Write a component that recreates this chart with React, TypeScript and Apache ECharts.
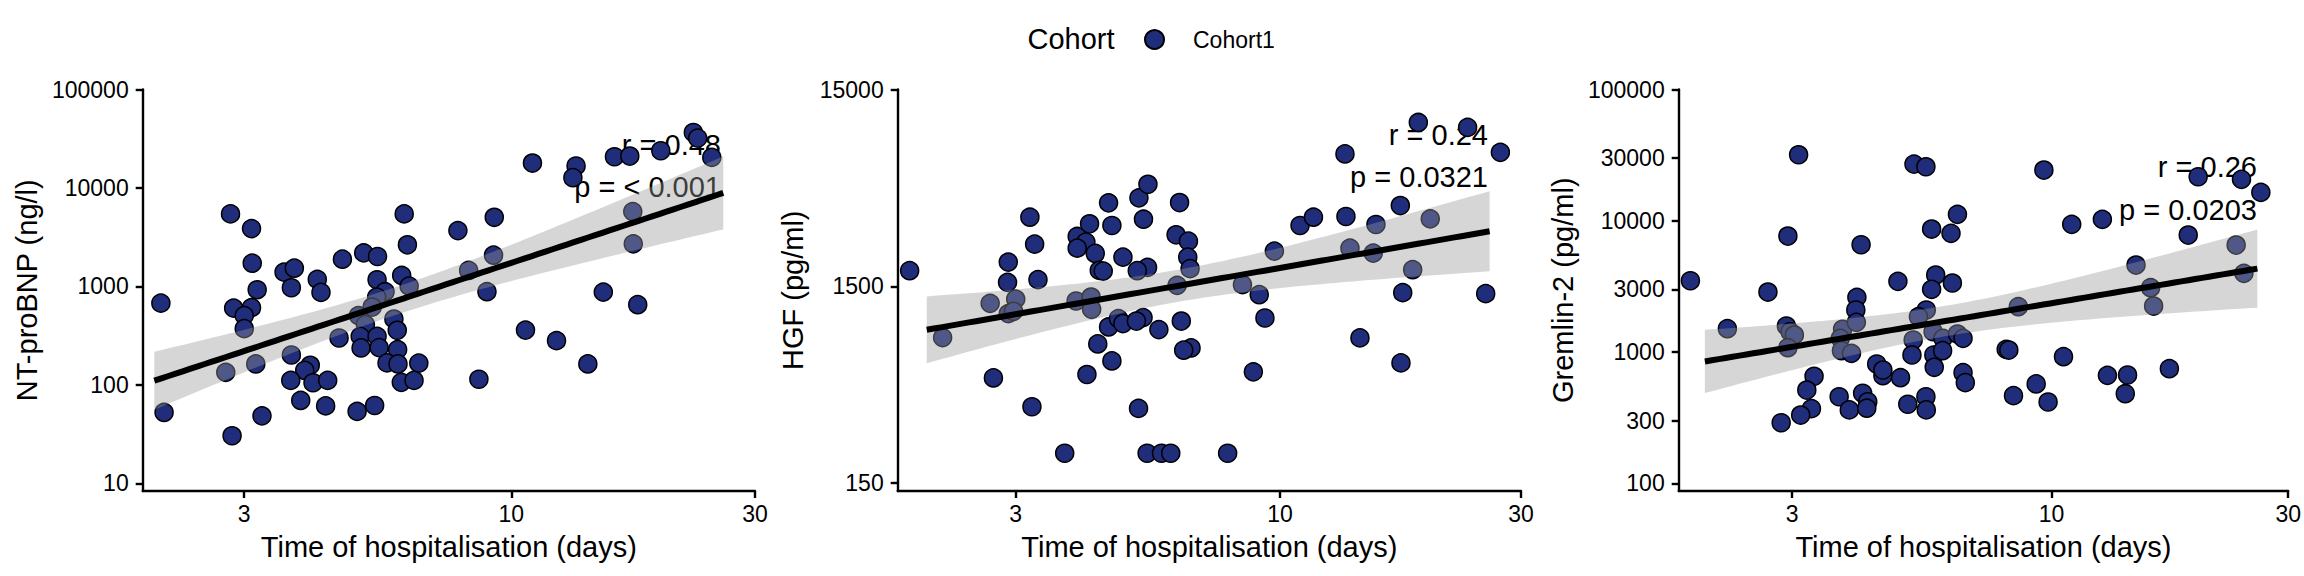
import { useEffect, useRef } from "react";
import * as echarts from "echarts";

// tick marks shown on the axes
const dayTicks = [3, 10, 30];
const ntproTicks = [10, 100, 1000, 10000, 100000];
const hgfTicks = [150, 1500, 15000];
const gremlinTicks = [100, 300, 1000, 3000, 10000, 30000, 100000];

// [days, NT-proBNP ng/l]
const ntproBnp = [
  [2.06, 676], [2.09, 52.4], [2.82, 5450], [3.1, 3865], [3.11, 1721], [3.18, 925],
  [2.86, 602], [3.1, 608], [3.0, 505], [3.0, 372], [2.76, 134], [3.16, 163],
  [3.25, 48.4], [2.84, 30.4], [3.59, 1395], [3.76, 1531], [3.71, 969], [4.17, 1177],
  [4.24, 869], [4.67, 1889], [5.14, 2193], [5.47, 2012], [5.46, 1168], [5.66, 883],
  [5.45, 778], [5.34, 617], [5.02, 505], [5.18, 409], [5.06, 311], [5.46, 311],
  [5.08, 237], [5.51, 239], [5.89, 466], [5.98, 358], [5.99, 228], [5.71, 167],
  [6.0, 163], [6.59, 166], [6.09, 106], [6.45, 111], [3.71, 201], [4.04, 158],
  [3.94, 140], [3.7, 111], [4.09, 105], [4.37, 111], [3.87, 69.4], [4.33, 61.1],
  [4.99, 53.7], [5.4, 61.7], [4.6, 299], [6.17, 5450], [6.26, 2645], [6.1, 1291],
  [6.31, 1006], [7.86, 3690], [9.26, 5035], [9.23, 2074], [8.25, 1452], [8.96, 883],
  [8.64, 114], [10.66, 360], [12.26, 281], [14.12, 163], [15.14, 875], [17.68, 652],
  [17.29, 5750], [17.33, 2706], [11.0, 17910], [13.39, 16710], [13.2, 12710], [15.92, 20750],
  [17.06, 21090], [19.62, 23880], [22.72, 36580], [23.17, 32110], [24.69, 20420],
];

// [days, HGF pg/ml]
const hgf = [
  [1.85, 1802], [2.15, 824], [2.67, 1230], [2.9, 1992], [2.89, 1572], [3.0, 1293],
  [2.9, 1091], [2.97, 1121], [3.2, 3368], [3.27, 2458], [3.32, 1623], [2.71, 514],
  [3.23, 367], [3.75, 213], [3.97, 2689], [4.13, 2516], [3.97, 2346], [4.2, 3118],
  [4.31, 2205], [4.58, 3984], [4.65, 3057], [4.39, 1808], [4.47, 1793], [4.89, 2111],
  [5.26, 4224], [5.48, 4950], [5.37, 3290], [5.47, 1873], [5.22, 1802], [3.95, 1264],
  [4.23, 1324], [4.24, 1147], [4.58, 933], [4.79, 1029], [4.89, 971], [5.36, 1041],
  [5.2, 1000], [5.76, 905], [4.36, 765], [4.65, 627], [4.15, 535], [5.25, 360],
  [5.46, 213], [5.83, 213], [6.08, 213], [6.33, 3998], [6.23, 2742], [6.59, 2545],
  [6.57, 2111], [6.64, 1845], [6.26, 1518], [6.38, 1000], [6.67, 730], [6.45, 711],
  [7.88, 213], [8.86, 552], [9.34, 1036], [9.1, 1361], [8.43, 1530], [9.75, 2265],
  [10.96, 3057], [11.65, 3368], [13.45, 7058], [13.51, 3396], [13.76, 2346], [15.49, 3093],
  [15.3, 2213], [14.4, 821], [17.31, 3860], [17.5, 1394], [17.36, 613], [18.31, 1823],
  [19.84, 3305], [18.79, 10200], [23.52, 9627], [27.31, 7191], [25.54, 1378],
];

// [days, Gremlin-2 pg/ml]
const gremlin2 = [
  [1.87, 3491], [2.22, 1505], [2.68, 2864], [2.94, 7646], [3.09, 31820], [2.92, 1578],
  [2.97, 1427], [3.03, 1347], [2.94, 1078], [3.32, 653], [3.21, 513], [3.28, 370],
  [3.12, 331], [2.85, 289], [3.73, 456], [3.91, 362], [4.16, 485], [4.26, 418],
  [4.24, 373], [3.79, 1489], [3.75, 1271], [3.77, 1023], [3.95, 977], [4.05, 2610],
  [4.03, 2089], [4.04, 1683], [4.13, 6565], [4.44, 810], [4.57, 660], [4.57, 729],
  [4.96, 637], [4.9, 3455], [5.28, 27030], [5.58, 25780], [5.73, 8647], [6.27, 8017],
  [6.46, 11190], [5.84, 3858], [5.73, 3002], [6.31, 3354], [5.59, 2089], [5.39, 1857],
  [5.26, 1234], [5.23, 949], [5.77, 1427], [6.04, 1271], [5.79, 949], [6.03, 1023],
  [5.8, 765], [6.46, 1371], [6.63, 1271], [6.63, 696], [6.7, 584], [5.13, 400],
  [5.58, 456], [5.59, 362], [9.65, 24340], [10.98, 9389], [12.66, 10250], [8.57, 2213],
  [8.1, 1048], [8.2, 1035], [10.57, 921], [9.31, 571], [8.38, 465], [9.84, 416],
  [12.96, 664], [14.23, 668], [14.08, 481], [17.28, 746], [14.8, 4598], [15.84, 3089],
  [16.06, 2240], [18.86, 7782], [19.75, 21640], [24.15, 20670], [26.42, 16450], [23.56, 6530],
  [24.42, 3976],
];

// day range covered by the smooth
const fitDays = [2, 26];

const corText = [
  ["r = 0.48", "p = < 0.001"],
  ["r = 0.24", "p = 0.0321"],
  ["r = 0.26", "p = 0.0203"],
];

const FONT = "Liberation Sans";
const NAVY = "#1f2d7b";

const panels = [
  {
    data: ntproBnp, yName: "NT-proBNP (ng/l)", yTicks: ntproTicks,
    left: 142.7, width: 612.3, xMin: 1.898, yMin: 8.35, yMax: 100000, nameGap: 101,
    textX: 721, textY: [144.5, 187],
  },
  {
    data: hgf, yName: "HGF (pg/ml)", yTicks: hgfTicks,
    left: 897.7, width: 623.3, xMin: 1.752, yMin: 137, yMax: 15000, nameGap: 90.6,
    textX: 1488, textY: [135, 177.3],
  },
  {
    data: gremlin2, yName: "Gremlin-2 (pg/ml)", yTicks: gremlinTicks,
    left: 1678.7, width: 610.3, xMin: 1.771, yMin: 87.3, yMax: 100000, nameGap: 101,
    textX: 2257, textY: [166.7, 210],
  },
];

const lg = (v: number) => Math.log10(v);

// ordinary least squares on log10-log10, with a 95% confidence band
function lmFit(points: number[][], span: number[]) {
  const xs = points.map((p) => lg(p[0]));
  const ys = points.map((p) => lg(p[1]));
  const n = xs.length;
  const mx = xs.reduce((s, v) => s + v, 0) / n;
  const my = ys.reduce((s, v) => s + v, 0) / n;
  let sxx = 0;
  let sxy = 0;
  xs.forEach((x, i) => {
    sxx += (x - mx) ** 2;
    sxy += (x - mx) * (ys[i] - my);
  });
  const b = sxy / sxx;
  const a = my - b * mx;
  let sse = 0;
  xs.forEach((x, i) => {
    sse += (ys[i] - a - b * x) ** 2;
  });
  const s = Math.sqrt(sse / (n - 2));
  const t = 1.992;
  const lo = lg(span[0]);
  const hi = lg(span[1]);
  const line: number[][] = [];
  const band: number[][] = [];
  for (let i = 0; i <= 80; i++) {
    const x = lo + ((hi - lo) * i) / 80;
    const y = a + b * x;
    const se = s * Math.sqrt(1 / n + (x - mx) ** 2 / sxx);
    line.push([x, y]);
    band.push([x, y - t * se, y + t * se]);
  }
  return { line, band };
}

const tickLabel = (ticks: number[]) => (v: number) => {
  let best = ticks[0];
  ticks.forEach((t) => {
    if (Math.abs(lg(t) - v) < Math.abs(lg(best) - v)) best = t;
  });
  return String(best);
};

const axisCommon = {
  type: "value" as const,
  splitLine: { show: false },
  axisLine: { show: true, onZero: false, lineStyle: { color: "#000", width: 2.4 } },
  axisTick: { show: true, length: 7, lineStyle: { color: "#000", width: 2.4 } },
  nameTextStyle: { color: "#000", fontSize: 29, fontFamily: FONT },
};

export default function App() {
  const ref = useRef<HTMLDivElement | null>(null);

  useEffect(() => {
    document.body.style.margin = "0";
    if (!ref.current) return;
    const chart = echarts.init(ref.current, null, { renderer: "svg" });

    const grid: any[] = [];
    const xAxis: any[] = [];
    const yAxis: any[] = [];
    const series: any[] = [];
    const texts: any[] = [];

    panels.forEach((p, i) => {
      grid.push({ left: p.left, top: 89.5, width: p.width, height: 401.5 });
      xAxis.push({
        ...axisCommon,
        gridIndex: i,
        min: lg(p.xMin),
        max: lg(30),
        name: "Time of hospitalisation (days)",
        nameLocation: "middle",
        nameGap: 41,
        axisTick: { ...axisCommon.axisTick, customValues: dayTicks.map(lg) },
        axisLabel: {
          customValues: dayTicks.map(lg),
          formatter: tickLabel(dayTicks),
          color: "#000",
          fontSize: 23,
          fontFamily: FONT,
          margin: 11,
        },
      });
      yAxis.push({
        ...axisCommon,
        gridIndex: i,
        min: lg(p.yMin),
        max: lg(p.yMax),
        name: p.yName,
        nameLocation: "middle",
        nameGap: p.nameGap,
        axisTick: { ...axisCommon.axisTick, customValues: p.yTicks.map(lg) },
        axisLabel: {
          customValues: p.yTicks.map(lg),
          formatter: tickLabel(p.yTicks),
          color: "#000",
          fontSize: 23,
          fontFamily: FONT,
          margin: 14,
        },
      });

      const fit = lmFit(p.data, fitDays);

      series.push({
        type: "scatter",
        name: "Cohort1",
        xAxisIndex: i,
        yAxisIndex: i,
        z: 2,
        symbol: "circle",
        symbolSize: 18,
        itemStyle: { color: NAVY, borderColor: "#000", borderWidth: 1.5, opacity: 1 },
        emphasis: { disabled: true },
        data: p.data.map((d) => [lg(d[0]), lg(d[1])]),
      });
      series.push({
        type: "custom",
        xAxisIndex: i,
        yAxisIndex: i,
        z: 3,
        silent: true,
        data: fit.band,
        encode: { x: 0, y: [1, 2] },
        renderItem: (params: any, api: any) => {
          if (params.dataIndex !== 0) return null;
          const upper = fit.band.map((d) => api.coord([d[0], d[2]]));
          const lower = fit.band.map((d) => api.coord([d[0], d[1]])).reverse();
          return {
            type: "polygon",
            shape: { points: upper.concat(lower) },
            style: { fill: "rgba(153,153,153,0.4)" },
          };
        },
      });
      series.push({
        type: "line",
        xAxisIndex: i,
        yAxisIndex: i,
        z: 4,
        silent: true,
        showSymbol: false,
        lineStyle: { color: "#000", width: 6 },
        data: fit.line,
      });

      corText[i].forEach((txt, k) => {
        texts.push({
          type: "text",
          x: p.textX,
          y: p.textY[k],
          z: 1,
          style: {
            text: txt,
            fill: "#000",
            fontSize: 29,
            fontFamily: FONT,
            align: "right",
            verticalAlign: "middle",
          },
        });
      });
    });

    texts.push({
      type: "text",
      x: 1071,
      y: 39,
      z: 1,
      style: {
        text: "Cohort",
        fill: "#000",
        fontSize: 29,
        fontFamily: FONT,
        align: "center",
        verticalAlign: "middle",
      },
    });

    chart.setOption({
      animation: false,
      textStyle: { fontFamily: FONT },
      grid,
      xAxis,
      yAxis,
      series,
      legend: {
        data: ["Cohort1"],
        left: 1144,
        top: 28,
        padding: 0,
        icon: "circle",
        itemWidth: 19,
        itemHeight: 19,
        selectedMode: false,
        textStyle: { color: "#000", fontSize: 23, fontFamily: FONT, padding: [0, 0, 0, 24] },
      },
      graphic: { elements: texts },
    });

    return () => {
      chart.dispose();
    };
  }, []);

  return <div ref={ref} style={{ width: 2304, height: 576 }} />;
}
